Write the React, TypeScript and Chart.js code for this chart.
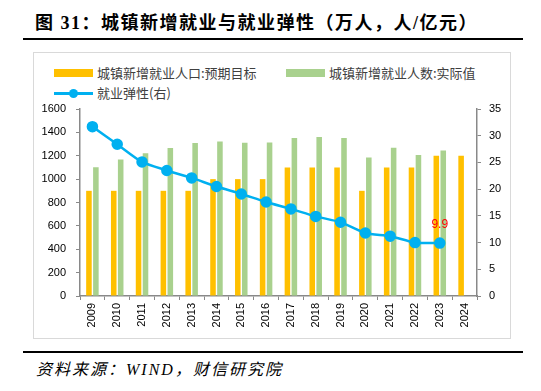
import React, { useEffect, useRef } from "react";
import { Chart, registerables } from "chart.js";

Chart.register(...registerables);

const years = ["2009", "2010", "2011", "2012", "2013", "2014", "2015", "2016", "2017", "2018", "2019", "2020", "2021", "2022", "2023", "2024"];
const targetValues = [900, 900, 900, 900, 900, 1000, 1000, 1000, 1100, 1100, 1100, 900, 1100, 1100, 1200, 1200];
const actualValues = [1102, 1168, 1221, 1266, 1310, 1322, 1312, 1314, 1351, 1361, 1352, 1186, 1269, 1206, 1244, null];
const elasticityValues = [31.7, 28.4, 25.1, 23.5, 22.1, 20.5, 19.1, 17.6, 16.3, 14.9, 13.8, 11.8, 11.2, 10.0, 9.9, null];
const leftTicks = { min: 0, max: 1600, step: 200 };
const rightTicks = { min: 0, max: 35, step: 5 };

const TITLE = "图 31：城镇新增就业与就业弹性（万人，人/亿元）";
const SOURCE = "资料来源：WIND，财信研究院";
const LEGEND_TARGET = "城镇新增就业人口:预期目标";
const LEGEND_ACTUAL = "城镇新增就业人数:实际值";
const LEGEND_LINE = "就业弹性(右)";

const ORANGE = "#FFC000";
const GREEN = "#A9D18E";
const BLUE = "#00B0F0";
const AXIS = "#898989";

const lastLabelPlugin = {
  id: "lastLabel",
  afterDatasetsDraw(chart: any) {
    const idx = 0;
    const meta = chart.getDatasetMeta(idx);
    const data = chart.data.datasets[idx].data as (number | null)[];
    let last = -1;
    for (let i = 0; i < data.length; i++) if (data[i] != null) last = i;
    if (last < 0) return;
    const pt = meta.data[last];
    const ctx = chart.ctx;
    ctx.save();
    ctx.fillStyle = "#FF0000";
    ctx.font = "12px 'Liberation Sans', Arial, sans-serif";
    ctx.textAlign = "center";
    ctx.textBaseline = "middle";
    ctx.fillText((data[last] as number).toFixed(1), pt.x, pt.y - 18);
    ctx.restore();
  },
};

export default function App() {
  const ref = useRef<HTMLCanvasElement | null>(null);
  useEffect(() => {
    if (!ref.current) return;
    const tickFont = { family: "'Liberation Sans', Arial, sans-serif", size: 11 };
    const chart = new Chart(ref.current, {
      type: "bar",
      data: {
        labels: years,
        datasets: [
          {
            type: "line",
            label: LEGEND_LINE,
            data: elasticityValues,
            yAxisID: "y1",
            borderColor: BLUE,
            backgroundColor: BLUE,
            borderWidth: 2.5,
            pointRadius: 4.5,
            pointBackgroundColor: BLUE,
            pointBorderColor: BLUE,
            tension: 0.25,
            order: 0,
          } as any,
          {
            label: LEGEND_TARGET,
            data: targetValues,
            backgroundColor: ORANGE,
            yAxisID: "y",
            categoryPercentage: 0.56,
            barPercentage: 0.8,
            order: 1,
          },
          {
            label: LEGEND_ACTUAL,
            data: actualValues,
            backgroundColor: GREEN,
            yAxisID: "y",
            categoryPercentage: 0.56,
            barPercentage: 0.8,
            order: 2,
          },
        ],
      },
      options: {
        responsive: false,
        animation: false,
        devicePixelRatio: 1,
        layout: { padding: { top: 57, left: 0, right: 0, bottom: 0 } },
        plugins: { legend: { display: false }, tooltip: { enabled: false }, title: { display: false } },
        scales: {
          x: {
            grid: { display: true, drawOnChartArea: false, drawTicks: true, tickLength: 4, color: AXIS, offset: true },
            border: { display: true, color: AXIS, width: 1.5 },
            ticks: { color: "#000", font: tickFont, maxRotation: 90, minRotation: 90, padding: 3, autoSkip: false },
            afterFit: (s: any) => { s.height = 43; },
          },
          y: {
            position: "left",
            min: leftTicks.min,
            max: leftTicks.max,
            grid: { display: true, drawOnChartArea: false, drawTicks: true, tickLength: 4, color: AXIS },
            border: { display: true, color: AXIS, width: 1.5 },
            ticks: { stepSize: leftTicks.step, color: "#000", font: tickFont, padding: 10, callback: (v: any) => String(v) },
            afterFit: (s: any) => { s.width = 47; },
          },
          y1: {
            position: "right",
            min: rightTicks.min,
            max: rightTicks.max,
            grid: { display: true, drawOnChartArea: false, drawTicks: true, tickLength: 4, color: AXIS },
            border: { display: true, color: AXIS, width: 1.5 },
            ticks: { stepSize: rightTicks.step, color: "#000", font: tickFont, padding: 8, callback: (v: any) => String(v) },
            afterFit: (s: any) => { s.width = 34; },
          },
        },
      } as any,
      plugins: [lastLabelPlugin],
    });
    return () => chart.destroy();
  }, []);

  const cjk = "'Noto Sans CJK SC', 'Noto Sans', sans-serif";
  const legendText: React.CSSProperties = {
    position: "absolute",
    fontFamily: cjk,
    fontSize: 13,
    color: "#404040",
    lineHeight: "16px",
    whiteSpace: "nowrap",
  };

  return (
    <div style={{ position: "absolute", left: 0, top: 0, width: 541, height: 391, background: "#fff", overflow: "hidden" }}>
      <div
        style={{
          position: "absolute",
          left: 35,
          top: 11,
          fontFamily: "'Liberation Serif', 'Times New Roman', 'Noto Sans CJK SC', serif",
          fontWeight: "bold",
          fontSize: 18,
          letterSpacing: "1.5px",
          lineHeight: "24px",
          color: "#000",
          whiteSpace: "nowrap",
        }}
      >
        {TITLE}
      </div>
      <div style={{ position: "absolute", left: 23, top: 37.5, width: 500, height: 2, background: "#000" }} />
      <div style={{ position: "absolute", left: 33, top: 52, width: 478, height: 287, border: "1.5px solid #D9D9D9", boxSizing: "border-box" }} />
      <div style={{ position: "absolute", left: 54, top: 69, width: 39, height: 8, background: ORANGE }} />
      <div style={{ ...legendText, left: 97, top: 65 }}>{LEGEND_TARGET}</div>
      <div style={{ position: "absolute", left: 286, top: 69, width: 39, height: 8, background: GREEN }} />
      <div style={{ ...legendText, left: 329, top: 65 }}>{LEGEND_ACTUAL}</div>
      <div style={{ position: "absolute", left: 54, top: 92, width: 39, height: 2.5, background: BLUE }} />
      <div style={{ position: "absolute", left: 69, top: 89, width: 9, height: 9, borderRadius: "50%", background: BLUE }} />
      <div style={{ ...legendText, left: 97, top: 85 }}>{LEGEND_LINE}</div>
      <canvas
        ref={ref}
        width={478}
        height={287}
        style={{ position: "absolute", left: 33, top: 52, width: 478, height: 287 }}
      />
      <div style={{ position: "absolute", left: 23, top: 351, width: 500, height: 2, background: "#000" }} />
      <div
        style={{
          position: "absolute",
          left: 36,
          top: 360,
          fontFamily: "'Liberation Serif', 'Times New Roman', 'Noto Sans CJK SC', serif",
          fontStyle: "italic",
          fontSize: 16,
          letterSpacing: "2px",
          lineHeight: "20px",
          color: "#000",
          whiteSpace: "nowrap",
        }}
      >
        {SOURCE}
      </div>
    </div>
  );
}
